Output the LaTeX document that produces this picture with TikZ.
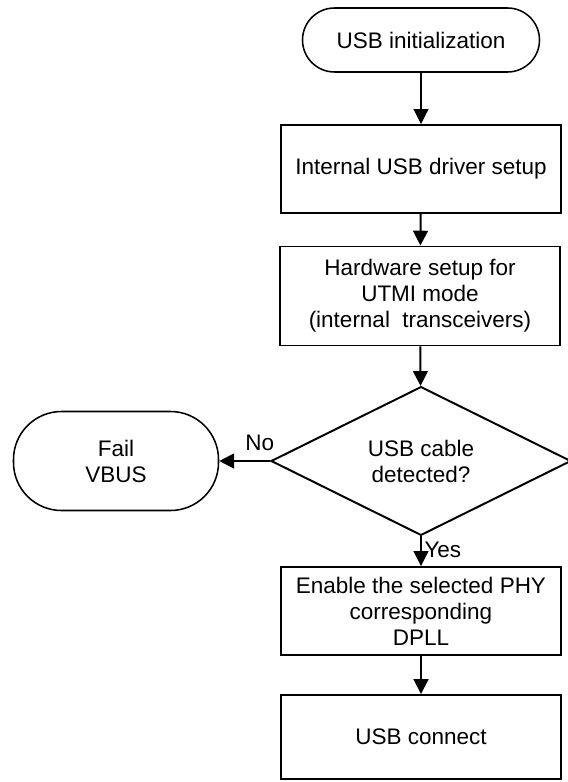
\documentclass[tikz,border=0pt]{standalone}
\usepackage{fontspec}
\setmainfont{Liberation Sans}
\usepackage{tikz}
\usetikzlibrary{positioning,arrows.meta,shapes.geometric}
\tikzset{
  flowarrow/.style={-{Triangle[length=0.37cm, width=0.37cm]}, line width=1.4pt},
  thinarrow/.style={-{Triangle[length=0.37cm, width=0.37cm]}, line width=0.8pt},
  terminal/.style={draw, line width=1.1pt, minimum width=5.925cm, minimum height=1.6cm, rounded corners=0.8cm, align=center},
  stepbox/.style={draw, line width=1.4pt, minimum width=7.0cm, minimum height=2.2cm, align=center},
  decision/.style={draw, diamond, line width=1.4pt, minimum width=7.5cm, minimum height=3.65cm, inner sep=0pt, align=center},
  relabel/.style={inner sep=2pt}
}

\begin{document}
\begin{tikzpicture}[every node/.style={font=\fontsize{16}{18.5}\selectfont}]
  \useasboundingbox (0,0) rectangle (14.175,-19.55);
  \node[terminal] (init) at (10.525,-1.0) {USB initialization};
  \node[stepbox] (drv) at (10.525,-4.225) {Internal USB driver setup};
  \node[stepbox, minimum height=2.475cm] (hw) at (10.5,-7.4) {Hardware setup for\\ UTMI mode\\ (internal\ \ transceivers)};
  \node[decision] (cable) at (10.525,-11.525) {USB cable\\ detected?};
  \node[terminal, minimum width=5.125cm, minimum height=2.475cm, rounded corners=1.2cm] (fail) at (2.9,-11.525) {Fail\\ VBUS};
  \node[stepbox] (phy) at (10.525,-15.275) {Enable the selected PHY\\ corresponding\\ DPLL};
  \node[stepbox, minimum height=2.1cm] (conn) at (10.525,-18.425) {USB connect};
  \draw[thinarrow] (init) -- (drv);
  \draw[flowarrow] (drv) -- (hw);
  \draw[flowarrow] (hw) -- (cable);
  \draw[flowarrow] (cable.west) -- node[relabel, pos=0.2, above, yshift=0.15cm] {No} (fail.east);
  \draw[thinarrow, line width=1pt] (cable.south) -- node[relabel, pos=0.45, right] {Yes} (phy.north);
  \draw[flowarrow] (phy) -- (conn);
\end{tikzpicture}
\end{document}
